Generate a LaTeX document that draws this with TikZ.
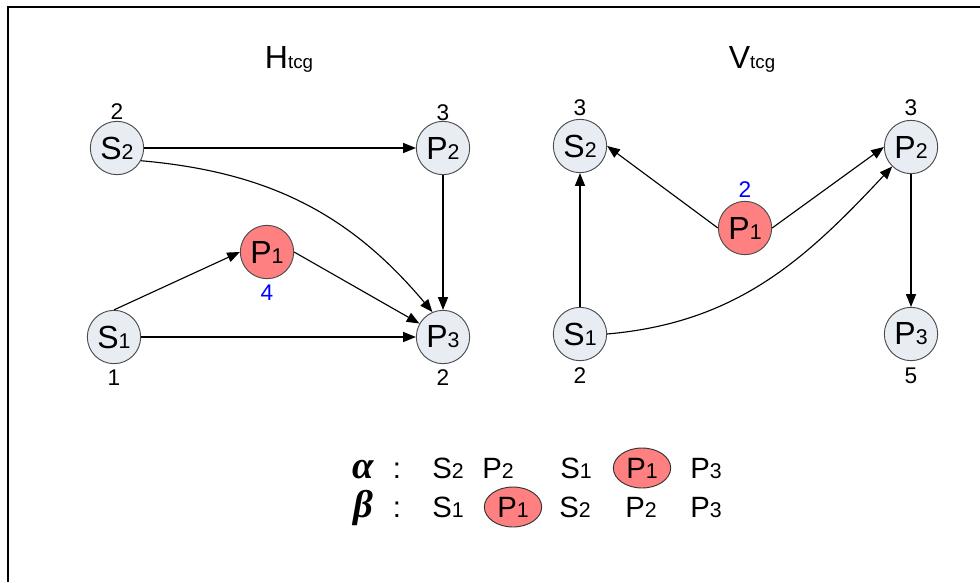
\documentclass[tikz,border=0pt]{standalone}
\usepackage{fontspec}
\setmainfont{Liberation Sans}
\newfontfamily\greekfont{Liberation Serif}
\usetikzlibrary{arrows.meta,shapes.geometric}

\definecolor{nodegray}{RGB}{232,236,243}
\definecolor{critred}{RGB}{255,128,128}
\newcommand{\vx}[3][16]{#2{\fontsize{#1}{#1}\selectfont #3}}

\begin{document}
\begin{tikzpicture}[x=0.75pt,y=0.75pt,
  vert/.style={circle,draw=black!70,line width=0.7pt,fill=nodegray,minimum size=40pt,inner sep=0pt,font=\fontsize{24}{24}\selectfont},
  crit/.style={vert,fill=critred},
  num/.style={inner sep=0pt,font=\fontsize{17}{17}\selectfont},
  arr/.style={line width=0.85pt,-{Triangle[length=9.5pt,width=7.5pt]}},
  seq/.style={inner sep=0pt,anchor=base,font=\fontsize{22}{22}\selectfont},
  pick/.style={ellipse,draw=black!80,line width=0.7pt,fill=critred,minimum width=43pt,minimum height=30pt,inner sep=0pt,font=\fontsize{22}{22}\selectfont},
  greek/.style={inner sep=0pt,anchor=base,font=\fontsize{29}{29}\greekfont\bfseries\itshape}]
  \useasboundingbox (0,0) rectangle (980,-582);
  \draw[line width=1.5pt] (980,-7) -- (8,-7) -- (8,-582);

  \node[anchor=base,inner sep=0pt,font=\fontsize{24}{24}\selectfont] (htitle) at (289,-68) {\vx[14]{H}{tcg}};
  \node[anchor=base,inner sep=0pt,font=\fontsize{24}{24}\selectfont] (vtitle) at (752,-68) {\vx[14]{V}{tcg}};

  % H_tcg
  \node[vert] (ls2) at (117,-148) {\vx{S}{2}};
  \node[vert] (lp2) at (443,-148) {\vx{P}{2}};
  \node[crit] (lp1) at (267,-252) {\vx{P}{1}};
  \node[vert] (ls1) at (114,-337) {\vx{S}{1}};
  \node[vert] (lp3) at (443,-337) {\vx{P}{3}};
  \node[num] (ls2n) at (117,-112) {2};
  \node[num] (lp2n) at (443,-113) {3};
  \node[num,text=blue] (lp1n) at (267,-293) {4};
  \node[num] (ls1n) at (114,-378) {1};
  \node[num] (lp3n) at (443,-378) {2};
  \draw[arr] (ls2) -- (lp2);
  \draw[arr] (lp2) -- (lp3);
  \draw[arr] (ls1) -- (lp3);
  \draw[arr] (ls1.north) -- (lp1.west);
  \draw[arr] (lp1.east) -- (lp3);
  \draw[arr] (ls2.-28) to[out=-5,in=130] (lp3.113);

  % V_tcg
  \node[vert] (rs2) at (580,-146) {\vx{S}{2}};
  \node[vert] (rp2) at (911,-147) {\vx{P}{2}};
  \node[crit] (rp1) at (745,-228) {\vx{P}{1}};
  \node[vert] (rs1) at (580,-334) {\vx{S}{1}};
  \node[vert] (rp3) at (911,-334) {\vx{P}{3}};
  \node[num] (rs2n) at (580,-108) {3};
  \node[num] (rp2n) at (911,-108) {3};
  \node[num,text=blue] (rp1n) at (745,-190) {2};
  \node[num] (rs1n) at (580,-376) {2};
  \node[num] (rp3n) at (911,-376) {5};
  \draw[arr] (rp1.west) -- (rs2.east);
  \draw[arr] (rp1.east) -- (rp2.west);
  \draw[arr] (rs1) -- (rs2);
  \draw[arr] (rp2) -- (rp3);
  \draw[arr] (rs1.east) to[out=5,in=227] (rp2.226);

  % orders
  \node[greek] (alpha) at (363,-478) {α};
  \node[seq] (acolon) at (397,-478) {:};
  \node[seq] (a1) at (448,-478) {\vx{S}{2}};
  \node[seq] (a2) at (498,-478) {\vx{P}{2}};
  \node[seq] (a3) at (576,-478) {\vx{S}{1}};
  \node[pick] (a4) at (642,-468) {\vx{P}{1}};
  \node[seq] (a5) at (706,-478) {\vx{P}{3}};
  \node[greek] (beta) at (363,-517) {β};
  \node[seq] (bcolon) at (397,-517) {:};
  \node[seq] (b1) at (448,-517) {\vx{S}{1}};
  \node[pick] (b2) at (513,-507) {\vx{P}{1}};
  \node[seq] (b3) at (575,-517) {\vx{S}{2}};
  \node[seq] (b4) at (641,-517) {\vx{P}{2}};
  \node[seq] (b5) at (706,-517) {\vx{P}{3}};
\end{tikzpicture}
\end{document}
